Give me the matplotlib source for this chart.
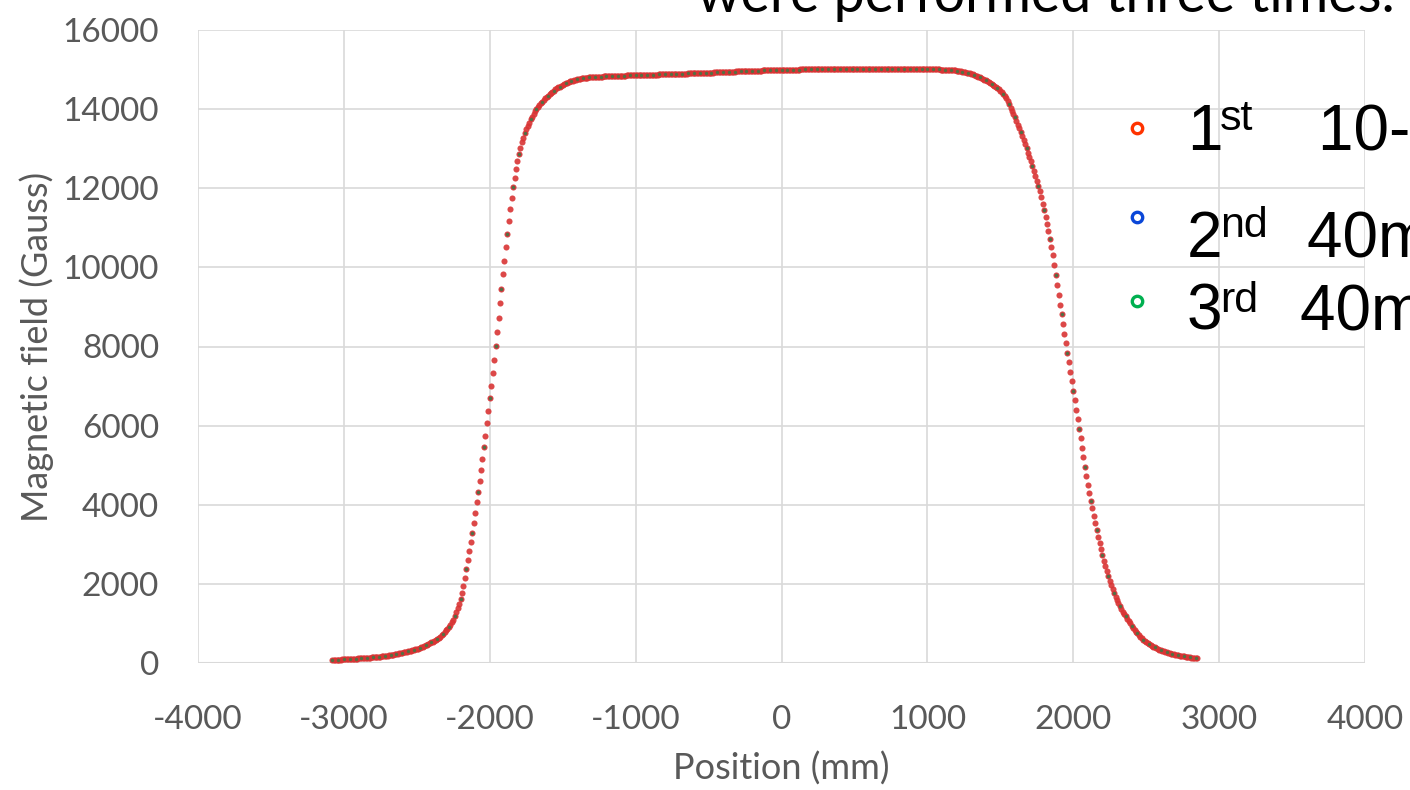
import numpy as np
import matplotlib
matplotlib.use('Agg')
import matplotlib.pyplot as plt
from matplotlib.lines import Line2D

# Scan positions (mm): the 1st run was stepped every 10 mm
pos_1st = np.arange(-3080, 2851, 10)

# Magnetic field (Gauss), one row per 100 mm
field_1st = [
    75, 77, 79, 81, 83, 85, 87, 89,                                  # -3080
    91, 93, 95, 97, 100, 102, 105, 107, 110, 112,                    # -3000
    115, 118, 120, 123, 126, 129, 132, 135, 138, 142,                # -2900
    145, 149, 152, 156, 159, 162, 167, 172, 178, 183,                # -2800
    189, 195, 201, 208, 214, 221, 228, 235, 243, 251,                # -2700
    259, 267, 275, 284, 293, 303, 312, 322, 333, 343,                # -2600
    354, 366, 378, 394, 410, 427, 444, 462, 481, 501,                # -2500
    522, 543, 565, 588, 612, 637, 664, 701, 740, 782,                # -2400
    826, 872, 921, 973, 1027, 1085, 1177, 1277, 1385, 1503,          # -2300
    1630, 1770, 1950, 2150, 2370, 2600, 2820, 3050, 3290, 3540,      # -2200
    3800, 4060, 4330, 4600, 4880, 5160, 5450, 5750, 6060, 6370,      # -2100
    6690, 7010, 7340, 7670, 8010, 8360, 8720, 9090, 9460, 9820,      # -2000
    10170, 10510, 10840, 11160, 11470, 11760, 12030, 12270, 12490, 12690,  # -1900
    12870, 13020, 13160, 13280, 13390, 13490, 13580, 13660, 13740, 13810,  # -1800
    13880, 13940, 14000, 14050, 14100, 14150, 14190, 14230, 14270, 14310,  # -1700
    14340, 14380, 14410, 14440, 14470, 14500, 14530, 14550, 14570, 14590,  # -1600
    14610, 14630, 14650, 14670, 14680, 14700, 14710, 14720, 14730, 14740,  # -1500
    14750, 14760, 14770, 14775, 14780, 14785, 14790, 14795, 14800, 14805,  # -1400
    14810, 14812, 14814, 14816, 14818, 14820, 14822, 14824, 14826, 14828,  # -1300
    14830, 14831, 14833, 14834, 14836, 14837, 14839, 14840, 14842, 14843,  # -1200
    14845, 14846, 14848, 14849, 14851, 14852, 14854, 14855, 14857, 14858,  # -1100
    14860, 14861, 14862, 14863, 14864, 14865, 14866, 14867, 14868, 14869,  # -1000
    14870, 14871, 14872, 14873, 14874, 14875, 14876, 14877, 14878, 14879,  # -900
    14880, 14881, 14883, 14884, 14886, 14887, 14889, 14890, 14892, 14893,  # -800
    14895, 14896, 14897, 14898, 14899, 14900, 14901, 14902, 14903, 14904,  # -700
    14905, 14906, 14908, 14909, 14911, 14912, 14914, 14915, 14917, 14918,  # -600
    14920, 14921, 14923, 14924, 14926, 14927, 14929, 14930, 14932, 14933,  # -500
    14935, 14937, 14939, 14941, 14943, 14945, 14947, 14949, 14951, 14953,  # -400
    14955, 14956, 14958, 14959, 14961, 14962, 14964, 14965, 14967, 14968,  # -300
    14970, 14971, 14972, 14973, 14974, 14975, 14976, 14977, 14978, 14979,  # -200
    14980, 14981, 14982, 14983, 14984, 14985, 14986, 14987, 14988, 14989,  # -100
    14990, 14991, 14992, 14993, 14994, 14995, 14996, 14997, 14998, 14999,  # 0
    15000, 15001, 15001, 15002, 15002, 15003, 15003, 15004, 15004, 15005,  # 100
    15005, 15006, 15006, 15007, 15007, 15008, 15008, 15009, 15009, 15010,  # 200
    15010, 15010, 15011, 15011, 15010, 15010, 15011, 15011, 15010, 15010,  # 300
    15010, 15011, 15011, 15010, 15010, 15010, 15011, 15011, 15010, 15010,  # 400
    15010, 15010, 15011, 15011, 15010, 15010, 15010, 15011, 15011, 15010,  # 500
    15010, 15010, 15011, 15011, 15010, 15010, 15011, 15011, 15010, 15010,  # 600
    15010, 15011, 15011, 15010, 15010, 15010, 15011, 15011, 15010, 15010,  # 700
    15010, 15010, 15011, 15011, 15010, 15010, 15010, 15011, 15011, 15010,  # 800
    15010, 15010, 15011, 15011, 15010, 15010, 15011, 15011, 15010, 15010,  # 900
    15010, 15009, 15008, 15007, 15006, 15005, 15004, 15003, 15002, 15001,  # 1000
    15000, 14998, 14996, 14994, 14992, 14990, 14987, 14984, 14981, 14978,  # 1100
    14975, 14969, 14963, 14957, 14951, 14945, 14935, 14925, 14915, 14903,  # 1200
    14890, 14876, 14862, 14848, 14834, 14820, 14802, 14784, 14766, 14748,  # 1300
    14730, 14708, 14686, 14664, 14642, 14620, 14590, 14560, 14530, 14500,  # 1400
    14470, 14430, 14385, 14335, 14270, 14200, 14120, 14040, 13960, 13875,  # 1500
    13790, 13700, 13610, 13515, 13420, 13320, 13220, 13120, 13010, 12900,  # 1600
    12790, 12680, 12560, 12440, 12320, 12190, 12060, 11920, 11770, 11610,  # 1700
    11440, 11270, 11090, 10910, 10720, 10520, 10310, 10060, 9810, 9560,    # 1800
    9310, 9060, 8810, 8560, 8320, 8080, 7840, 7600, 7360, 7120,            # 1900
    6880, 6640, 6400, 6160, 5920, 5680, 5440, 5200, 4960, 4730,            # 2000
    4510, 4300, 4100, 3910, 3720, 3540, 3360, 3190, 3030, 2870,            # 2100
    2720, 2580, 2450, 2320, 2200, 2080, 1970, 1860, 1760, 1670,            # 2200
    1590, 1510, 1440, 1360, 1300, 1240, 1180, 1120, 1060, 1005,            # 2300
    945, 890, 840, 792, 747, 705, 665, 627, 591, 561,                      # 2400
    533, 506, 481, 457, 434, 412, 392, 372, 354, 336,                      # 2500
    320, 307, 294, 282, 270, 259, 248, 237, 227, 218,                      # 2600
    209, 200, 193, 186, 179, 172, 166, 160, 154, 148,                      # 2700
    143, 138, 133, 128, 123, 118,                                          # 2800
]
assert len(field_1st) == len(pos_1st)

# 2nd and 3rd runs stepped every 40 mm (same readings at those positions)
pos_2nd = pos_1st[::4]
field_2nd = field_1st[::4]
pos_3rd = pos_1st[::4]
field_3rd = field_1st[::4]

x_ticks = [-4000, -3000, -2000, -1000, 0, 1000, 2000, 3000, 4000]
x_labels = ['-4000', '-3000', '-2000', '-1000', '0', '1000', '2000', '3000', '4000']
y_ticks = [0, 2000, 4000, 6000, 8000, 10000, 12000, 14000, 16000]
y_labels = ['0', '2000', '4000', '6000', '8000', '10000', '12000', '14000', '16000']

legend_rows = [
    # number, suffix, rest, marker colour
    ('1', 'st', '10-20mm step', '#ff3300'),
    ('2', 'nd', '40mm step', '#0a47d8'),
    ('3', 'rd', '40mm step', '#00b050'),
]

W, H = 1410, 790
fig = plt.figure(figsize=(W / 100, H / 100), dpi=100)
ax = fig.add_axes([198 / W, 1 - 663 / H, 1167 / W, 633 / H])

TICK = '#595959'
GRID = '#d9d9d9'

ax.plot(pos_2nd, field_2nd, 'o', ms=3.0, color='#1f4fbf', mec='none', zorder=2)
ax.plot(pos_1st, field_1st, 'o', ms=4.4, color='#d93434', mec='none', alpha=0.9, zorder=3)
ax.plot(pos_3rd, field_3rd, 'o', ms=2.4, color='#3d7a45', mec='none', alpha=0.85, zorder=4)

ax.set_xlim(-4000, 4000)
ax.set_ylim(0, 16000)
ax.set_xticks(x_ticks)
ax.set_xticklabels(x_labels)
ax.set_yticks(y_ticks)
ax.set_yticklabels(y_labels)
ax.grid(True, color=GRID, lw=1.2)
ax.set_axisbelow(True)
for s in ax.spines.values():
    s.set_visible(False)
ax.axhline(0, color=GRID, lw=1.5, zorder=1)
ax.tick_params(length=0, labelsize=24, labelcolor=TICK)
ax.tick_params(axis='x', pad=30)
ax.tick_params(axis='y', pad=28)
for lab in ax.get_xticklabels() + ax.get_yticklabels():
    lab.set_family('Lato')

ax.set_xlabel('Position (mm)', fontsize=26, color=TICK, family='Lato', labelpad=12)
ax.set_ylabel('Magnetic field (Gauss)', fontsize=26, color=TICK, family='Lato', labelpad=6)

# Title line cut at the top of the slide
fig.text(697 / W, 1 - 12 / H, 'were performed three times.', fontsize=40,
         family='Lato', color='black', ha='left', va='baseline')

# Hand-made legend with superscript ordinals
big, small = 46, 31
marker_y = [128, 217, 301]
base_y = [150, 257, 330]
sup_y = [130, 237, 312]
rest_x = [1318, 1307, 1300]
for (num, suf, rest, col), my, by, sy, rx in zip(legend_rows, marker_y, base_y, sup_y, rest_x):
    fig.add_artist(Line2D([1137 / W], [1 - my / H], marker='o', ms=7.5, mfc='white',
                          mec=col, mew=2.4, transform=fig.transFigure))
    fig.text(1187 / W, 1 - by / H, num, fontsize=big, family='Liberation Sans',
             ha='left', va='baseline')
    fig.text(1220 / W, 1 - sy / H, suf, fontsize=small, family='Liberation Sans',
             ha='left', va='baseline')
    fig.text(rx / W, 1 - by / H, rest, fontsize=big, family='Liberation Sans',
             ha='left', va='baseline')

fig.savefig('out.png', dpi=100)
